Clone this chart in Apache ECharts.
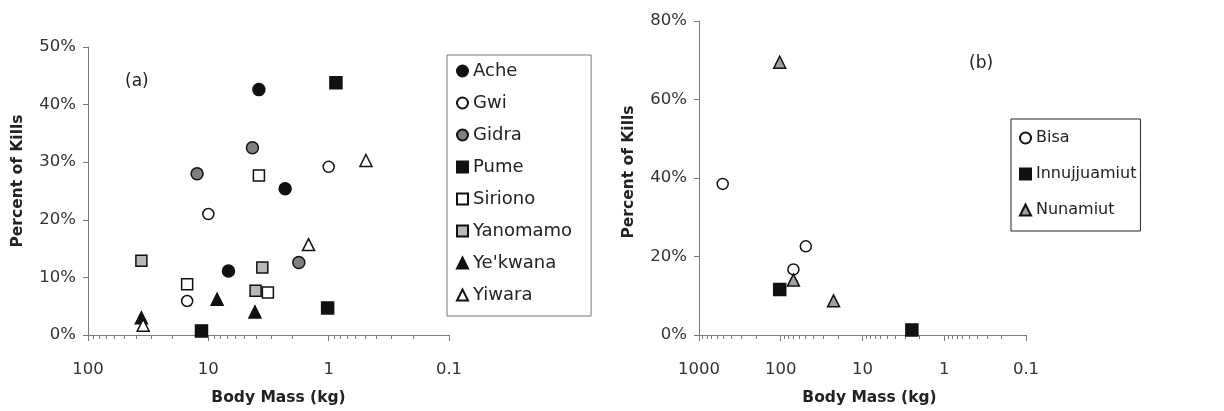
<!DOCTYPE html>
<html>
<head>
<meta charset="utf-8">
<script src="https://cdn.jsdelivr.net/npm/echarts@6/dist/echarts.min.js"></script>
<style>html,body{margin:0;padding:0;background:#fff}#c{width:1224px;height:411px}</style>
</head>
<body>
<div id="c"></div>
<script>
// ---- data: [body mass (kg), percent of kills] ----
const ache     = [[3.8, 42.6], [2.3, 25.4], [6.8, 11.1]];
const gwi      = [[1.0, 29.2], [10, 21.0], [15, 5.9]];
const gidra    = [[12.4, 28.0], [4.3, 32.5], [1.77, 12.6]];
const pume     = [[0.87, 43.8], [1.02, 4.7], [11.4, 0.7]];
const siriono  = [[3.8, 27.7], [15, 8.8], [3.2, 7.4]];
const yanomamo = [[36, 12.9], [3.56, 11.7], [4.05, 7.7]];
const yekwana  = [[36, 3.0], [8.45, 6.2], [4.1, 4.0]];
const yiwara   = [[0.49, 30.3], [1.47, 15.7], [34.8, 1.7]];

const bisa         = [[513, 38.5], [49.4, 22.6], [70, 16.7]];
const innujjuamiut = [[103, 11.6], [2.49, 1.3]];
const nunamiut     = [[103, 69.5], [70, 14.0], [22.6, 8.7]];

const leftNames  = ['Ache', 'Gwi', 'Gidra', 'Pume', 'Siriono', 'Yanomamo', "Ye'kwana", 'Yiwara'];
const rightNames = ['Bisa', 'Innujjuamiut', 'Nunamiut'];
const leftXTicks  = [100, 10, 1, 0.1];
const rightXTicks = [1000, 100, 10, 1, 0.1];

// minor log ticks (axis decoration)
function minorTicks(lo, hi) {
  const out = [];
  for (let d = lo; d < hi * 0.999; d *= 10) {
    for (let k = 2; k <= 9; k++) out.push(+(k * d).toPrecision(3));
  }
  return out;
}

const FONT = 'DejaVu Sans';
const AX = '#7a7a7a';
const fmtMass = v => v >= 1 ? String(Math.round(v)) : String(+(+v).toFixed(1));

function xMain(gi, min, max, ticks) {
  return {
    type: 'log', gridIndex: gi, min: min, max: max, inverse: true, logBase: 10,
    position: 'bottom',
    name: 'Body Mass (kg)', nameLocation: 'middle', nameGap: 55,
    nameTextStyle: { fontFamily: FONT, fontWeight: 'bold', fontSize: 15.5, color: '#222', padding: gi === 0 ? [0, 0, 0, 20] : [0, 0, 0, 14] },
    axisLine: { show: true, lineStyle: { color: AX, width: 1 } },
    axisTick: { show: true, length: 6, lineStyle: { color: AX }, customValues: ticks },
    axisLabel: { show: true, margin: 26, fontFamily: FONT, fontSize: 16.5, color: '#333', formatter: fmtMass, customValues: ticks },
    splitLine: { show: false }
  };
}
function xMinor(gi, min, max) {
  return {
    type: 'log', gridIndex: gi, min: min, max: max, inverse: true, logBase: 10,
    position: 'bottom',
    axisLine: { show: false },
    axisTick: { show: true, length: 4, lineStyle: { color: AX }, customValues: minorTicks(min, max) },
    axisLabel: { show: false },
    splitLine: { show: false }
  };
}
function yAxis(gi, max, interval) {
  return {
    type: 'value', gridIndex: gi, min: 0, max: max, interval: interval,
    name: 'Percent of Kills', nameLocation: 'middle', nameGap: 62,
    nameTextStyle: { fontFamily: FONT, fontWeight: 'bold', fontSize: 15.5, color: '#222', padding: gi === 0 ? [0, 0, 0, 20] : [0, 0, 0, 12] },
    axisLine: { show: true, lineStyle: { color: AX, width: 1 } },
    axisTick: { show: true, length: 5, lineStyle: { color: AX } },
    axisLabel: { margin: 12, fontFamily: FONT, fontSize: 16.5, color: '#333', formatter: '{value}%' },
    splitLine: { show: false }
  };
}

const BLACK = '#111';
function sc(name, data, xi, yi, symbol, fill, size) {
  return {
    type: 'scatter', name: name, data: data, xAxisIndex: xi, yAxisIndex: yi,
    symbol: symbol, symbolSize: size,
    itemStyle: { color: fill, borderColor: BLACK, borderWidth: 1.5, opacity: 1 },
    emphasis: { disabled: true }
  };
}

const series = [
  sc('Ache', ache, 0, 0, 'circle', BLACK, 12),
  sc('Gwi', gwi, 0, 0, 'circle', '#ffffff', 11),
  sc('Gidra', gidra, 0, 0, 'circle', '#808080', 12),
  sc('Pume', pume, 0, 0, 'rect', BLACK, 12),
  sc('Siriono', siriono, 0, 0, 'rect', '#ffffff', 11),
  sc('Yanomamo', yanomamo, 0, 0, 'rect', '#b8b8b8', 11),
  sc("Ye'kwana", yekwana, 0, 0, 'triangle', BLACK, 12),
  sc('Yiwara', yiwara, 0, 0, 'triangle', '#ffffff', 12),
  sc('Bisa', bisa, 2, 1, 'circle', '#ffffff', 11),
  sc('Innujjuamiut', innujjuamiut, 2, 1, 'rect', BLACK, 12),
  sc('Nunamiut', nunamiut, 2, 1, 'triangle', '#a0a0a0', 12)
];

const option = {
  animation: false,
  backgroundColor: '#ffffff',
  title: [
    { text: '(a)', left: 120, top: 68, textStyle: { fontFamily: FONT, fontSize: 17, fontWeight: 'normal', color: '#222' } },
    { text: '(b)', left: 964, top: 50, textStyle: { fontFamily: FONT, fontSize: 17, fontWeight: 'normal', color: '#222' } }
  ],
  grid: [
    { left: 88, top: 47, width: 361, height: 288 },
    { left: 699, top: 21, width: 327, height: 314 }
  ],
  xAxis: [
    xMain(0, 0.1, 100, leftXTicks),
    xMinor(0, 0.1, 100),
    xMain(1, 0.1, 1000, rightXTicks),
    xMinor(1, 0.1, 1000)
  ],
  yAxis: [yAxis(0, 50, 10), yAxis(1, 80, 20)],
  legend: [
    {
      data: leftNames, orient: 'vertical', left: 447, top: 55,
      itemWidth: 11, itemHeight: 11, itemGap: 14,
      padding: [7, 19, 12, 9],
      borderColor: '#777', borderWidth: 1,
      textStyle: { fontFamily: FONT, fontSize: 18, color: '#222', lineHeight: 18 },
      selectedMode: false
    },
    {
      data: rightNames, orient: 'vertical', left: 1011, top: 119,
      itemWidth: 11, itemHeight: 11, itemGap: 18,
      padding: [10, 4, 12, 8],
      borderColor: '#222', borderWidth: 1,
      textStyle: { fontFamily: FONT, fontSize: 16, color: '#222', lineHeight: 18 },
      selectedMode: false
    }
  ],
  series: series
};

const chart = echarts.init(document.getElementById('c'), null, { renderer: 'canvas' });
chart.setOption(option);
</script>
</body>
</html>
